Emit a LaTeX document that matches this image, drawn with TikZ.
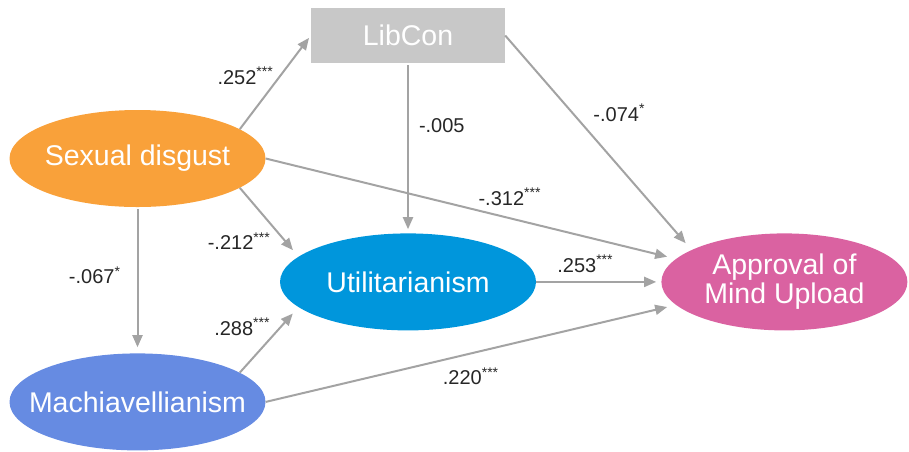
\documentclass[tikz,border=0pt]{standalone}
\usepackage{fontspec}
\setmainfont{Liberation Sans}
\usetikzlibrary{arrows.meta,positioning,shapes.geometric}
\definecolor{sdorange}{HTML}{F9A13A}
\definecolor{utilblue}{HTML}{0096DC}
\definecolor{machblue}{HTML}{668BE2}
\definecolor{mindpink}{HTML}{DA62A1}
\definecolor{boxgray}{HTML}{C8C8C8}
\definecolor{arrowgray}{HTML}{A3A3A3}
\definecolor{coeftext}{HTML}{262626}

\begin{document}
\begin{tikzpicture}[
    x=1pt, y=-1pt,
    construct/.style={ellipse, fill=#1, inner xsep=-40pt, inner ysep=0pt, minimum width=256pt, minimum height=97pt, align=center, text=white, font=\fontsize{28.5}{29}\selectfont},
    observed/.style={rectangle, fill=boxgray, minimum width=194pt, minimum height=55pt, text=white, font=\fontsize{28.5}{29}\selectfont},
    arrow/.style={-{Triangle[length=12pt, width=10pt]}, line width=2pt, draw=arrowgray},
    coef/.style={font=\fontsize{20}{22}\selectfont, text=coeftext, inner sep=1pt},
]

\useasboundingbox (0,0) rectangle (909,451);

% Constructs
\node[construct=sdorange] (sd) at (137.5,158.5) {Sexual disgust};
\node[observed] (lib) at (408,35.5) {LibCon};
\node[construct=utilblue, below=170pt of lib] (util) {Utilitarianism};
\node[construct=machblue, below=146pt of sd] (mach) {Machiavellianism};
\node[construct=mindpink, minimum width=246pt, right=125pt of util] (mind) {Approval of\\Mind Upload};

% Paths from sexual disgust
\draw[arrow, shorten >=3pt] (sd.16) -- node[coef, pos=0.57, left=5pt] {.252\textsuperscript{***}} (lib.west);
\draw[arrow, shorten >=6pt, shorten <=2pt] (sd.south) -- node[coef, pos=0.466, left=15pt] {-.067\textsuperscript{*}} (mach.north);
\draw[arrow, shorten >=8.5pt] (sd.344) -- node[coef, pos=0.775, left=13pt] {-.212\textsuperscript{***}} (util.167);
\draw[arrow, shorten >=9pt] (sd.east) -- node[coef, pos=0.595, above=11pt] {-.312\textsuperscript{***}} (mind.168);

% Paths from LibCon
\draw[arrow, shorten >=4pt, shorten <=2pt] (lib.south) -- node[coef, pos=0.365, right=9pt] {-.005} (util.north);
\draw[arrow, shorten >=9pt] (lib.east) -- node[coef, pos=0.361, right=19pt] {-.074\textsuperscript{*}} (mind.161);

% Paths from Machiavellianism
\draw[arrow, shorten >=8.5pt] (mach.16) -- node[coef, pos=0.703, left=9pt] {.288\textsuperscript{***}} (util.193);
\draw[arrow, shorten >=9pt] (mach.east) -- node[coef, pos=0.5, below=12pt] {.220\textsuperscript{***}} (mind.192);

% Utilitarianism to approval
\draw[arrow, shorten >=5pt] (util.east) -- node[coef, pos=0.392, above=7.5pt] {.253\textsuperscript{***}} (mind.west);

\end{tikzpicture}
\end{document}
